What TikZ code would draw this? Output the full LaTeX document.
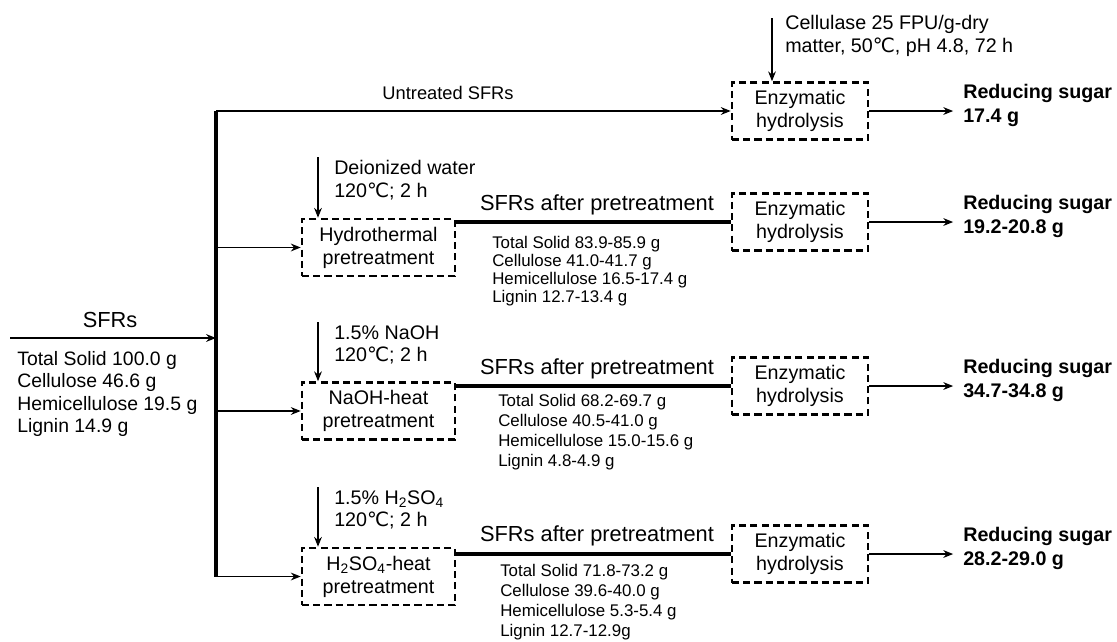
\documentclass[tikz,border=0pt]{standalone}
\usepackage{fontspec}
\setmainfont{Liberation Sans}
\newfontfamily\degfont{DejaVu Sans}
\usetikzlibrary{arrows.meta}
\newcommand{\degC}{{\degfont ℃}}

\tikzset{
  dbox/.style={draw, line width=1.8pt, dash pattern=on 5pt off 3pt, align=center, inner sep=0pt,
    minimum height=1.425cm, font=\fontsize{14}{16.4}\selectfont},
  pretbox/.style={dbox, minimum width=3.825cm},
  enzbox/.style={dbox, minimum width=3.4cm},
  bigtext/.style={inner sep=0pt, font=\fontsize{15.5}{18}\selectfont},
  reagent/.style={inner sep=0pt, align=left, font=\fontsize{14}{16}\selectfont},
  comp/.style={inner sep=0pt, align=left, font=\fontsize{12}{14.2}\selectfont},
  feedcomp/.style={inner sep=0pt, align=left, font=\fontsize{13.8}{16.1}\selectfont},
  sugar/.style={inner sep=0pt, align=left, font=\bfseries\fontsize{14}{17}\selectfont},
  thinarrow/.style={->, line width=0.9pt},
  feedarrow/.style={->, line width=1.3pt},
  outarrow/.style={->, line width=1.3pt, shorten >=7pt},
  bus/.style={line width=2.2pt},
  carry/.style={line width=2.2pt}
}

\begin{document}
\begin{tikzpicture}[x=0.025cm,y=-0.025cm,>={Stealth[length=7pt,width=5.5pt]}]
\useasboundingbox (0,0) rectangle (1117,641);

% raw material
\coordinate (feed) at (10,338);
\coordinate (bustop) at (216,111);
\node[bigtext] (sfr) at (110,320) {SFRs};
\node[feedcomp,anchor=west] (sfrcomp) at (17,394) {Total Solid 100.0 g\\Cellulose 46.6 g\\Hemicellulose 19.5 g\\Lignin 14.9 g};

% enzymatic hydrolysis
\node[enzbox] (E1) at (800,111) {Enzymatic\\hydrolysis};
\node[enzbox] (E2) at (800,222) {Enzymatic\\hydrolysis};
\node[enzbox] (E3) at (800,386) {Enzymatic\\hydrolysis};
\node[enzbox] (E4) at (800,554) {Enzymatic\\hydrolysis};

% pretreatments
\node[pretbox] (P2) at (378.5,247.5) {Hydrothermal\\pretreatment};
\node[pretbox] (P3) at (378.5,411) {NaOH-heat\\pretreatment};
\node[pretbox] (P4) at (378.5,576.5) {H\textsubscript{2}SO\textsubscript{4}-heat\\pretreatment};

\draw[feedarrow] (feed) -- (feed -| bustop);
\draw[bus] (bustop) -- (bustop |- P4.west);
\draw[feedarrow] (bustop) -- (E1.west);
\node[inner sep=0pt,font=\fontsize{13}{15}\selectfont] (untr) at (448,93) {Untreated SFRs};
\foreach \i in {2,3,4}
  \draw[feedarrow] (bustop |- P\i.west) -- (P\i.west);

% enzyme and reagents
\coordinate (enz) at (772,18);
\draw[thinarrow] (enz) -- (enz |- E1.north);
\node[reagent,anchor=west] (enztext) at (785,36) {Cellulase 25 FPU/g-dry\\matter, 50\degC, pH 4.8, 72 h};

\coordinate (r2) at (318,157);
\coordinate (r3) at (318,322);
\coordinate (r4) at (318,487);
\draw[thinarrow] (r2) -- (r2 |- P2.north);
\draw[thinarrow] (r3) -- (r3 |- P3.north);
\draw[thinarrow] (r4) -- (r4 |- P4.north);
\node[reagent,anchor=west] (rt2) at (334,180) {Deionized water\\120\degC; 2 h};
\node[reagent,anchor=west] (rt3) at (334,345) {1.5\% NaOH\\120\degC; 2 h};
\node[reagent,anchor=west] (rt4) at (334,510) {1.5\% H\textsubscript{2}SO\textsubscript{4}\\120\degC; 2 h};

% pretreated solids
\foreach \i in {2,3,4}
  \draw[carry] (P\i.east |- E\i.west) -- (E\i.west);
\node[bigtext] (a2) at (597,205) {SFRs after pretreatment};
\node[bigtext] (a3) at (597,369) {SFRs after pretreatment};
\node[bigtext] (a4) at (597,536) {SFRs after pretreatment};
\node[comp,anchor=west,font=\fontsize{12}{12.8}\selectfont] (c2) at (492,271) {Total Solid 83.9-85.9 g\\Cellulose 41.0-41.7 g\\Hemicellulose 16.5-17.4 g\\Lignin 12.7-13.4 g};
\node[comp,anchor=west] (c3) at (498,432.5) {Total Solid 68.2-69.7 g\\Cellulose 40.5-41.0 g\\Hemicellulose 15.0-15.6 g\\Lignin 4.8-4.9 g};
\node[comp,anchor=west] (c4) at (500,601.7) {Total Solid 71.8-73.2 g\\Cellulose 39.6-40.0 g\\Hemicellulose 5.3-5.4 g\\Lignin 12.7-12.9g};

% products
\node[sugar,anchor=west] (S1) at (963,105) {Reducing sugar\\17.4 g};
\node[sugar,anchor=west] (S2) at (963,216) {Reducing sugar\\19.2-20.8 g};
\node[sugar,anchor=west] (S3) at (963,380) {Reducing sugar\\34.7-34.8 g};
\node[sugar,anchor=west] (S4) at (963,548) {Reducing sugar\\28.2-29.0 g};
\foreach \i in {1,2,3,4}
  \draw[outarrow] (E\i.east) -- (E\i.east -| S\i.west);
\end{tikzpicture}
\end{document}
